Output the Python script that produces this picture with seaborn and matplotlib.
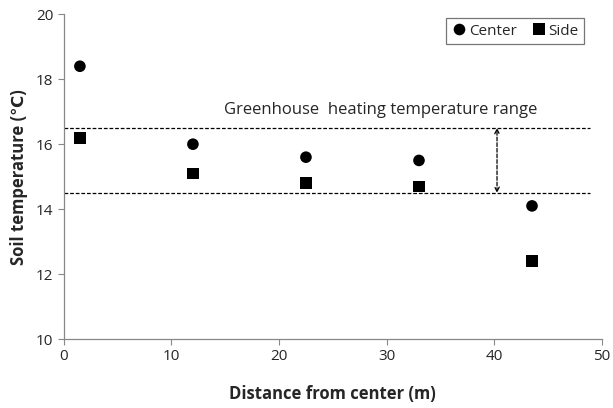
import matplotlib
matplotlib.use("Agg")
import matplotlib.pyplot as plt
import seaborn as sns
import pandas as pd

distance = [1.5, 12, 22.5, 33, 43.5]
center_temp = [18.4, 16.0, 15.6, 15.5, 14.1]
side_temp = [16.2, 15.1, 14.8, 14.7, 12.4]
series_names = ["Center", "Side"]
heating_low, heating_high = 14.5, 16.5
x_ticks = [0, 10, 20, 30, 40, 50]
y_ticks = [10, 12, 14, 16, 18, 20]

df = pd.DataFrame({
    "Distance": distance * 2,
    "Temp": center_temp + side_temp,
    "Position": [series_names[0]] * len(distance) + [series_names[1]] * len(distance),
})

sns.set_style("ticks")
plt.rcParams["font.family"] = ["Open Sans", "DejaVu Sans"]

fig = plt.figure(figsize=(6.13, 4.08), dpi=100)
ax = fig.add_axes([0.104, 0.169, 0.878, 0.796])

sns.scatterplot(data=df, x="Distance", y="Temp", hue="Position", style="Position",
                markers={"Center": "o", "Side": "s"},
                palette={"Center": "black", "Side": "black"},
                s=70, edgecolor="black", linewidth=0, ax=ax, legend=True, zorder=3)

# heating range band limits
for yv in (heating_low, heating_high):
    ax.plot([0, 48.9], [yv, yv], color="black", linestyle=(0, (3, 1.5)), linewidth=0.9, zorder=2)

ax.annotate("", xy=(40.25, heating_high), xytext=(40.25, heating_low),
            arrowprops=dict(arrowstyle="<->", linestyle=(0, (3, 1.5)), color="black",
                            linewidth=0.9, shrinkA=0, shrinkB=0, mutation_scale=8))
ax.text(29.4, 17.05, "Greenhouse  heating temperature range", ha="center", va="center",
        fontsize=12)

ax.set_xlim(0, 50)
ax.set_ylim(10, 20)
ax.set_xticks(x_ticks)
ax.set_yticks(y_ticks)
ax.tick_params(labelsize=11, length=4, color="#888888", width=0.8)
for side in ("top", "right"):
    ax.spines[side].set_visible(False)
for side in ("left", "bottom"):
    ax.spines[side].set_color("#888888")
    ax.spines[side].set_linewidth(0.9)

ax.set_xlabel("Distance from center (m)", fontsize=12, fontweight="bold", labelpad=15)
ax.set_ylabel("Soil temperature (℃)", fontsize=12, fontweight="bold", labelpad=6)

leg = ax.legend(loc="upper right", ncol=2, fontsize=11, frameon=True, fancybox=False,
                handletextpad=0.1, columnspacing=1.0, borderpad=0.35, borderaxespad=0,
                bbox_to_anchor=(0.967, 0.988), handlelength=1.0)
leg.get_frame().set_edgecolor("#555555")
leg.get_frame().set_linewidth(0.9)
leg.set_title(None)

fig.savefig("out.png", dpi=100)
